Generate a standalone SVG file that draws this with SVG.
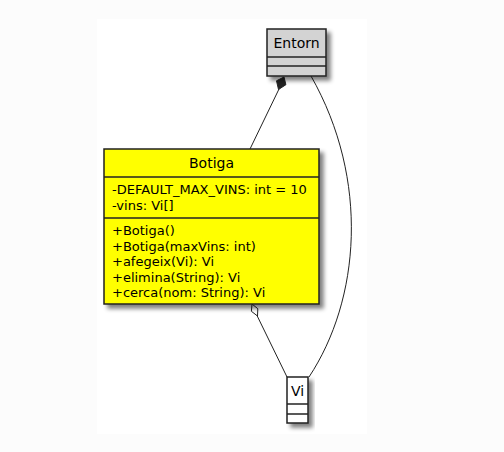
<svg xmlns="http://www.w3.org/2000/svg" width="504" height="452" viewBox="0 0 504 452">
<defs>
<filter id="sh" x="-20%" y="-20%" width="150%" height="150%">
<feGaussianBlur in="SourceAlpha" stdDeviation="2"/>
<feOffset dx="4" dy="4" result="b"/>
<feComponentTransfer><feFuncA type="linear" slope="0.5"/></feComponentTransfer>
<feMerge><feMergeNode/><feMergeNode in="SourceGraphic"/></feMerge>
</filter>
</defs>
<style>
.box{stroke:#222;stroke-width:1.5}
.sep{stroke:#222;stroke-width:1.5}
.t{font-family:"DejaVu Sans",sans-serif;fill:#000}
.title{font-size:14px;text-anchor:middle}
.m{font-size:13px}
.c{fill:none;stroke:#222;stroke-width:1}
</style>
<rect width="504" height="452" fill="#fcfcfc"/>
<rect x="97" y="19" width="270" height="415" fill="#ffffff"/>
<g id="connectors">
<path class="c" d="M279,89 L250,149"/>
<polygon points="284,77 285.9,84.7 278.5,89.5 276.5,80.8" fill="#222" stroke="#222" stroke-width="1"/>
<path class="c" d="M311,76 C370,180 360,300 309,377"/>
<path class="c" d="M257,315.5 L287,377"/>
<polygon points="252,304 257.8,308.7 257.5,316 251.4,311.3" fill="#fff" stroke="#222" stroke-width="1"/>
</g>
<g id="Entorn">
<rect class="box" x="267" y="29" width="59" height="47" fill="#d3d3d3" filter="url(#sh)"/>
<line class="sep" x1="267" y1="57" x2="326" y2="57"/>
<line class="sep" x1="267" y1="66" x2="326" y2="66"/>
<text class="t title" x="296.5" y="48">Entorn</text>
</g>
<g id="Botiga">
<rect class="box" x="104" y="149" width="215" height="155" fill="#ffff00" filter="url(#sh)"/>
<line class="sep" x1="104" y1="177" x2="319" y2="177"/>
<line class="sep" x1="104" y1="218" x2="319" y2="218"/>
<text class="t title" x="211.5" y="168">Botiga</text>
<text class="t m" x="112" y="194">-DEFAULT_MAX_VINS: int = 10</text>
<text class="t m" x="112" y="209.5">-vins: Vi[]</text>
<text class="t m" x="112" y="235">+Botiga()</text>
<text class="t m" x="112" y="250.5">+Botiga(maxVins: int)</text>
<text class="t m" x="112" y="266">+afegeix(Vi): Vi</text>
<text class="t m" x="112" y="281.5">+elimina(String): Vi</text>
<text class="t m" x="112" y="297">+cerca(nom: String): Vi</text>
</g>
<g id="Vi">
<rect class="box" x="287" y="377" width="21" height="46" fill="#ffffff" filter="url(#sh)"/>
<line class="sep" x1="287" y1="404" x2="308" y2="404"/>
<line class="sep" x1="287" y1="414" x2="308" y2="414"/>
<text class="t title" x="297.5" y="396">Vi</text>
</g>
</svg>
